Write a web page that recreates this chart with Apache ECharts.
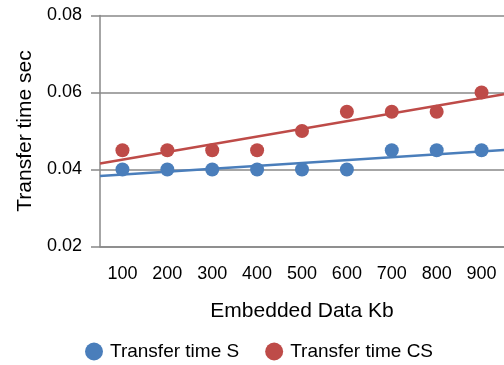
<!DOCTYPE html>
<html>
<head>
<meta charset="utf-8">
<script src="https://cdn.jsdelivr.net/npm/echarts@6/dist/echarts.min.js"></script>
<style>
html,body{margin:0;padding:0;background:#fff;}
#chart{width:504px;height:365px;}
</style>
</head>
<body>
<div id="chart"></div>
<script>
var categories = ['100','200','300','400','500','600','700','800','900'];
var transferS = [0.040,0.040,0.040,0.040,0.040,0.040,0.045,0.045,0.045];
var transferCS = [0.045,0.045,0.045,0.045,0.050,0.055,0.055,0.055,0.060];
var yTicks = [0.02,0.04,0.06,0.08];

function trend(vals){
  var n = vals.length, sx=0, sy=0, sxx=0, sxy=0;
  for (var i=0;i<n;i++){ var x=i+1, y=vals[i]; sx+=x; sy+=y; sxx+=x*x; sxy+=x*y; }
  var b = (n*sxy - sx*sy)/(n*sxx - sx*sx);
  var a = (sy - b*sx)/n;
  var x0 = 0.5, x1 = n + 0.5;
  return [[x0, a+b*x0],[x1, a+b*x1]];
}

var blue = '#4a7ebb', red = '#be4b48', gray = '#888888';
var font = 'Liberation Sans, Arial, sans-serif';
var chart = echarts.init(document.getElementById('chart'), null, {renderer:'canvas'});
chart.setOption({
  animation:false,
  backgroundColor:'#ffffff',
  textStyle:{fontFamily:font},
  grid:{left:100, top:15.5, width:409.5, height:231, containLabel:false},
  legend:{
    data:['Transfer time S','Transfer time CS'],
    left:85, top:342, padding:0, icon:'circle', itemWidth:18, itemHeight:18, itemGap:26,
    textStyle:{fontSize:19, color:'#000', fontFamily:font, padding:[0,0,0,2]}
  },
  xAxis:[{
    type:'category', data:categories, boundaryGap:true,
    name:'Embedded Data Kb', nameLocation:'middle', nameGap:54,
    nameTextStyle:{fontSize:21, color:'#000', fontFamily:font},
    axisLine:{lineStyle:{color:gray, width:1.5}},
    axisTick:{alignWithLabel:true, length:7, lineStyle:{color:gray, width:1.5}},
    axisLabel:{fontSize:18, color:'#000', margin:19, interval:0, fontFamily:font},
    splitLine:{show:false}
  },{
    type:'value', min:0.5, max:categories.length+0.5, show:false
  }],
  yAxis:{
    type:'value', min:yTicks[0], max:yTicks[yTicks.length-1], interval:0.02,
    name:'Transfer time sec', nameLocation:'middle', nameGap:63,
    nameTextStyle:{fontSize:21, color:'#000', fontFamily:font},
    axisLine:{show:true, lineStyle:{color:gray, width:1.5}},
    axisTick:{show:true, length:9, lineStyle:{color:gray, width:1.5}},
    axisLabel:{fontSize:18, color:'#000', margin:18, fontFamily:font,
      formatter:function(v){return v.toFixed(2);}},
    splitLine:{show:true, lineStyle:{color:gray, width:1.5}}
  },
  series:[
    {name:'Transfer time S trend', type:'line', xAxisIndex:1, data:trend(transferS),
      symbol:'none', lineStyle:{color:blue, width:2.5}, silent:true, z:1},
    {name:'Transfer time CS trend', type:'line', xAxisIndex:1, data:trend(transferCS),
      symbol:'none', lineStyle:{color:red, width:2.5}, silent:true, z:1},
    {name:'Transfer time S', type:'scatter', data:transferS, symbolSize:14,
      itemStyle:{color:blue, opacity:1}, z:2},
    {name:'Transfer time CS', type:'scatter', data:transferCS, symbolSize:14,
      itemStyle:{color:red, opacity:1}, z:2}
  ]
});
</script>
</body>
</html>
